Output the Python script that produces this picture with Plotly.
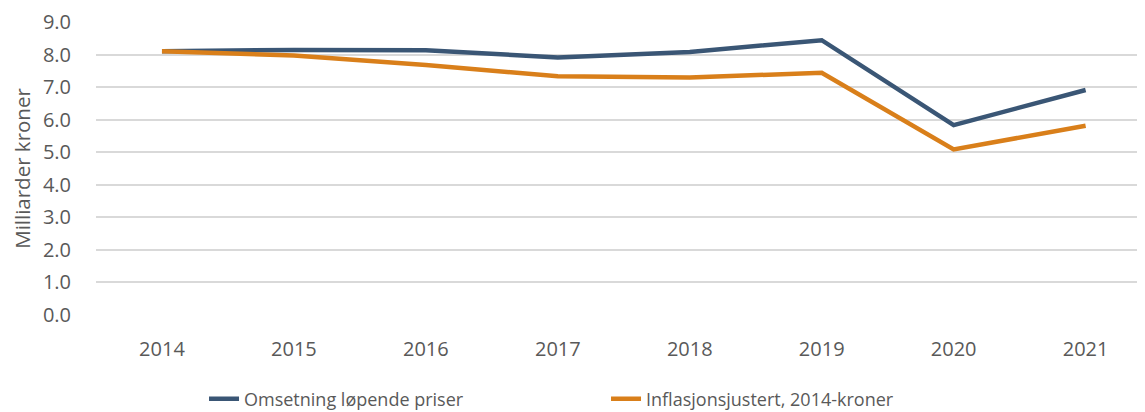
import plotly.graph_objects as go

years = ["2014", "2015", "2016", "2017", "2018", "2019", "2020", "2021"]
omsetning = [8.11, 8.15, 8.14, 7.92, 8.09, 8.45, 5.84, 6.92]
inflasjon = [8.11, 7.98, 7.69, 7.34, 7.30, 7.45, 5.09, 5.82]
y_ticks = [0, 1, 2, 3, 4, 5, 6, 7, 8, 9]

FONT = "Open Sans, Liberation Sans, Arial, sans-serif"
GREY = "#595959"

fig = go.Figure()
fig.add_trace(go.Scatter(x=years, y=omsetning, mode="lines", name="Omsetning løpende priser",
                         line=dict(color="#3A5675", width=4.5)))
fig.add_trace(go.Scatter(x=years, y=inflasjon, mode="lines", name="Inflasjonsjustert, 2014-kroner",
                         line=dict(color="#D97F1A", width=4.5)))

# page body has a default 8px margin; size the figure so it fits the 1145x412 window
fig.update_layout(
    width=1137, height=404,
    margin=dict(l=88, r=0, t=10, b=97),
    paper_bgcolor="white", plot_bgcolor="white",
    font=dict(family=FONT, size=20, color=GREY),
    showlegend=True,
    legend=dict(orientation="h", xref="container", yref="container",
                x=0.1724, xanchor="left", y=0.032, yanchor="middle",
                font=dict(size=18, color=GREY), entrywidth=357, entrywidthmode="pixels",
                tracegroupgap=0),
    xaxis=dict(type="category", range=[-0.5, 7.45], showgrid=False, zeroline=False,
               showline=False, ticks="", ticklabelstandoff=20,
               tickfont=dict(size=20, color=GREY)),
    yaxis=dict(range=[0, 9.01], tickvals=y_ticks, ticktext=[f"{v:.1f}" for v in y_ticks],
               showgrid=True, gridcolor="#D9D9D9", gridwidth=1.5, zeroline=False,
               showline=False, ticks="", ticklabelstandoff=24,
               tickfont=dict(size=20, color=GREY), ticklabeloverflow="allow",
               title=dict(text="Milliarder kroner", font=dict(size=20.5, color=GREY), standoff=14)),
)

fig.write_html("out.html")
